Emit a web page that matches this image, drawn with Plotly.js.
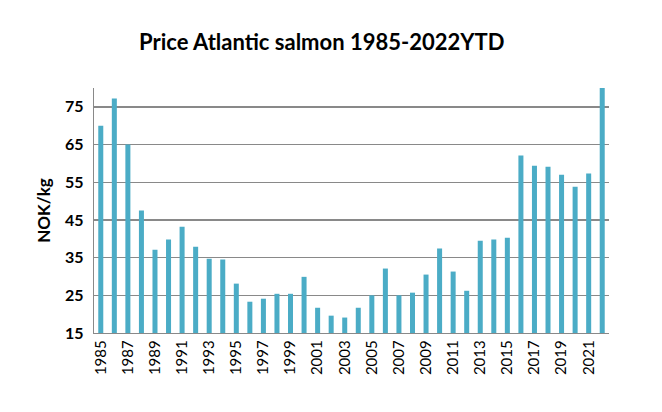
<!DOCTYPE html>
<html>
<head>
<meta charset="utf-8">
<script src="https://cdn.plot.ly/plotly-3.0.1.min.js"></script>
<style>
    html, body { margin: 0; padding: 0; background: #fff; }
    #chart { width: 662px; height: 412px; }
</style>
</head>
<body>
<div id="chart"></div>
<script>
// Yearly salmon price, NOK/kg. 2022 runs past the top of the axis in the
// original, so its value is only an estimate.
const years = [
    1985, 1986, 1987, 1988, 1989, 1990, 1991, 1992, 1993, 1994,
    1995, 1996, 1997, 1998, 1999, 2000, 2001, 2002, 2003, 2004,
    2005, 2006, 2007, 2008, 2009, 2010, 2011, 2012, 2013, 2014,
    2015, 2016, 2017, 2018, 2019, 2020, 2021, 2022,
];
const prices = [
    70.0, 77.2, 65.0, 47.5, 37.1, 39.8, 43.2, 37.9, 34.7, 34.5,
    28.1, 23.3, 24.1, 25.4, 25.4, 29.9, 21.7, 19.6, 19.1, 21.7,
    25.0, 32.1, 25.0, 25.7, 30.5, 37.4, 31.3, 26.2, 39.5, 39.8,
    40.3, 62.1, 59.4, 59.1, 57.0, 53.8, 57.3, 84.0,
];
const yearTicks = years.filter(y => (y - 1985) % 2 === 0);
const priceTicks = [15, 25, 35, 45, 55, 65, 75];

const font = "Lato, 'Open Sans', sans-serif";
const gray = "#898989";

Plotly.newPlot("chart", [{
    type: "bar",
    x: years,
    y: prices,
    marker: { color: "#4bacc6" },
    hoverinfo: "x+y",
}], {
    width: 662,
    height: 412,
    margin: { l: 94, r: 53, t: 88, b: 79, pad: 0 },
    paper_bgcolor: "#fff",
    plot_bgcolor: "#fff",
    bargap: 0.63,
    showlegend: false,
    font: { family: font, color: "#000" },
    title: {
        text: "<b>Price Atlantic salmon 1985-2022YTD</b>",
        font: { family: font, size: 22, color: "#000" },
        xref: "container", yref: "container",
        x: 0.486, y: 0.898, xanchor: "center", yanchor: "middle",
    },
    xaxis: {
        type: "linear",
        range: [1984.5, 2022.5],
        tickvals: yearTicks,
        ticktext: yearTicks.map(String),
        tickangle: -90,
        tickfont: { family: font, size: 15, color: "#000" },
        showgrid: false,
        zeroline: false,
        showline: true,
        linecolor: gray,
        linewidth: 1.3,
        ticks: "",
        fixedrange: true,
    },
    yaxis: {
        range: [15, 80],
        tickvals: priceTicks,
        tickfont: { family: font, size: 16, color: "#000", weight: "bold" },
        ticks: "",
        ticklen: 0,
        ticklabelstandoff: 6,
        showgrid: true,
        gridcolor: gray,
        gridwidth: 1.3,
        zeroline: false,
        showline: true,
        linecolor: gray,
        linewidth: 1.3,
        title: {
            text: "<b>NOK/kg</b>",
            font: { family: font, size: 17, color: "#000" },
            standoff: 10,
        },
        fixedrange: true,
    },
}, { displayModeBar: false, staticPlot: true });
</script>
</body>
</html>
